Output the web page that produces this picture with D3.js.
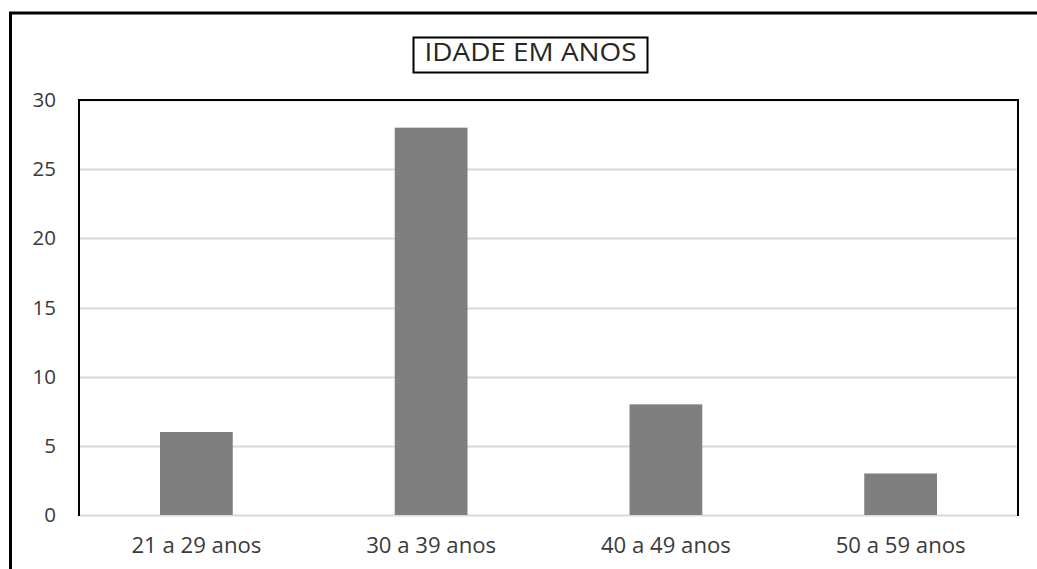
<!DOCTYPE html>
<html>
<head>
<meta charset="utf-8">
<script src="https://cdn.jsdelivr.net/npm/d3@7"></script>
<style>
  html, body { margin: 0; padding: 0; background: #fff; }
  svg { display: block; }
  text { font-family: "Open Sans", "Noto Sans", sans-serif; }
</style>
</head>
<body>
<svg id="chart" width="1037" height="569"></svg>
<script>
// Age groups and respondent counts
const categories = ["21 a 29 anos", "30 a 39 anos", "40 a 49 anos", "50 a 59 anos"];
const counts = [6, 28, 8, 3];
const yTicks = [0, 5, 10, 15, 20, 25, 30];
const title = "IDADE EM ANOS";

const svg = d3.select("#chart");
const W = 1037, H = 569;
const plot = { left: 79, top: 100, right: 1018, bottom: 515 };

const x = d3.scaleBand().domain(categories).range([plot.left, plot.right]).padding(0);
const y = d3.scaleLinear().domain([0, 30]).range([plot.bottom, plot.top]);
const barW = x.bandwidth() * 0.31;

// Outer frame: top and left edges
svg.append("path")
  .attr("d", `M10.5,${H} L10.5,13 L${W},13`)
  .attr("fill", "none").attr("stroke", "#000").attr("stroke-width", 3);

// Horizontal gridlines
svg.append("g").selectAll("line").data(yTicks).join("line")
  .attr("x1", plot.left).attr("x2", plot.right)
  .attr("y1", d => Math.round(y(d)) + 0.5).attr("y2", d => Math.round(y(d)) + 0.5)
  .attr("stroke", "#d9d9d9").attr("stroke-width", 2);

// Bars
svg.append("g").selectAll("rect").data(counts).join("rect")
  .attr("x", (d, i) => x(categories[i]) + (x.bandwidth() - barW) / 2)
  .attr("width", barW)
  .attr("y", d => y(d))
  .attr("height", d => y(0) - y(d))
  .attr("fill", "#7f7f7f");

// Plot frame: left, top and right edges
svg.append("path")
  .attr("d", `M${plot.left},${plot.bottom + 1} L${plot.left},${plot.top} L${plot.right},${plot.top} L${plot.right},${plot.bottom + 1}`)
  .attr("fill", "none").attr("stroke", "#000").attr("stroke-width", 2);

// Y axis labels
const yAxis = svg.append("g")
  .attr("transform", `translate(${plot.left - 23},0)`)
  .call(d3.axisLeft(y).tickValues(yTicks).tickSize(0).tickPadding(0));
yAxis.select(".domain").remove();
yAxis.selectAll("text")
  .attr("font-size", 20.5).attr("fill", "#3a3a3a")
  .style("font-family", '"Open Sans", "Noto Sans", sans-serif');

// X axis labels
const xAxis = svg.append("g")
  .attr("transform", `translate(0,${plot.bottom + 23})`)
  .call(d3.axisBottom(x).tickSize(0).tickPadding(0));
xAxis.select(".domain").remove();
xAxis.selectAll("text")
  .attr("font-size", 21).attr("fill", "#3a3a3a").attr("dy", "0.71em")
  .attr("textLength", 130).attr("lengthAdjust", "spacingAndGlyphs")
  .style("font-family", '"Open Sans", "Noto Sans", sans-serif');

// Title with boxed outline
svg.append("rect")
  .attr("x", 413.5).attr("y", 37.5).attr("width", 234).attr("height", 35)
  .attr("fill", "#fff").attr("stroke", "#000").attr("stroke-width", 2);
svg.append("text")
  .attr("x", 530.5).attr("y", 61)
  .attr("text-anchor", "middle")
  .attr("font-size", 25).attr("fill", "#262626")
  .attr("textLength", 212).attr("lengthAdjust", "spacingAndGlyphs")
  .text(title);
</script>
</body>
</html>
